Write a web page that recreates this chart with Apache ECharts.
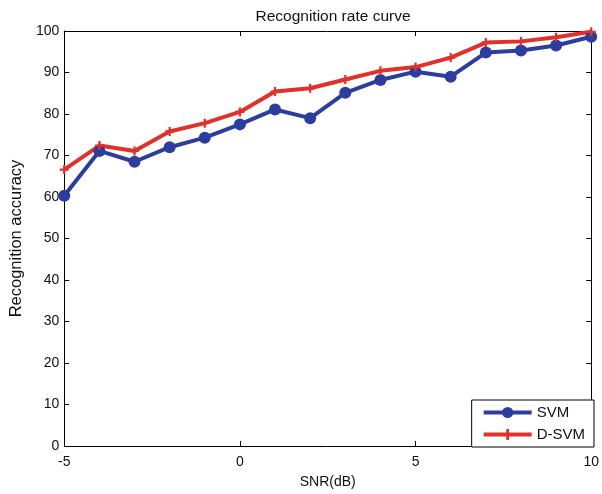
<!DOCTYPE html>
<html><head><meta charset="utf-8">
<script src="https://cdn.jsdelivr.net/npm/echarts@6/dist/echarts.min.js"></script>
<style>html,body{margin:0;padding:0;background:#fff}#c{width:602px;height:494px}</style>
</head><body><div id="c"></div>
<script>
const snr = [-5,-4,-3,-2,-1,0,1,2,3,4,5,6,7,8,9,10];
const svm = [60.3,71.1,68.5,72.0,74.3,77.5,81.1,79.0,85.1,88.2,90.2,89.0,94.8,95.3,96.5,98.6];
const dsvm = [66.6,72.4,71.1,75.8,77.8,80.5,85.4,86.2,88.3,90.4,91.3,93.6,97.2,97.5,98.5,99.8];
const font = 'Liberation Sans, Arial, sans-serif';
const chart = echarts.init(document.getElementById('c'));
const blue = '#2d3d9e', red = '#e2302a';
const plus = 'path://M3,0H5V3H8V5H5V8H3V5H0V3H3Z';
const axBase = () => ({
  axisLine:{show:true,onZero:false,lineStyle:{color:'#000',width:1}},
  axisTick:{show:true,inside:true,length:5,lineStyle:{color:'#000'}},
  splitLine:{show:false}
});
chart.setOption({
  animation:false,
  title:{text:'Recognition rate curve',left:328,top:4,textAlign:'center',
    textStyle:{fontFamily:font,fontSize:15.5,fontWeight:'normal',color:'#111'}},
  grid:{left:64,right:8,top:31,bottom:47},
  legend:{orient:'vertical',right:8,bottom:47,
    backgroundColor:'#fff',borderColor:'#000',borderWidth:1,borderRadius:0,
    padding:[5,9,5,10],itemGap:7,itemWidth:48,itemHeight:14,
    lineStyle:{width:4},
    textStyle:{fontFamily:font,fontSize:15,color:'#111'},
    data:['SVM','D-SVM']},
  xAxis:[
    Object.assign({type:'value',min:-5,max:10,interval:5,position:'bottom',
      name:'SNR(dB)',nameLocation:'middle',nameGap:29,
      nameTextStyle:{fontFamily:font,fontSize:14,color:'#111'},
      axisLabel:{fontFamily:font,fontSize:14,color:'#111',margin:9}},axBase()),
    Object.assign({type:'value',min:-5,max:10,interval:5,position:'top',
      axisLabel:{show:false}},axBase())
  ],
  yAxis:[
    Object.assign({type:'value',min:0,max:100,interval:10,position:'left',
      name:'Recognition accuracy',nameLocation:'middle',nameGap:39,
      nameTextStyle:{fontFamily:font,fontSize:16.5,color:'#111'},
      axisLabel:{fontFamily:font,fontSize:14,color:'#111',margin:5}},axBase()),
    Object.assign({type:'value',min:0,max:100,interval:10,position:'right',
      axisLabel:{show:false}},axBase())
  ],
  series:[
    {name:'SVM',type:'line',data:snr.map((x,i)=>[x,svm[i]]),
      symbol:'circle',symbolSize:12,
      lineStyle:{color:blue,width:4},itemStyle:{color:blue}},
    {name:'D-SVM',type:'line',data:snr.map((x,i)=>[x,dsvm[i]]),
      symbol:plus,symbolSize:9,
      lineStyle:{color:red,width:4},itemStyle:{color:red}}
  ]
});
</script></body></html>
